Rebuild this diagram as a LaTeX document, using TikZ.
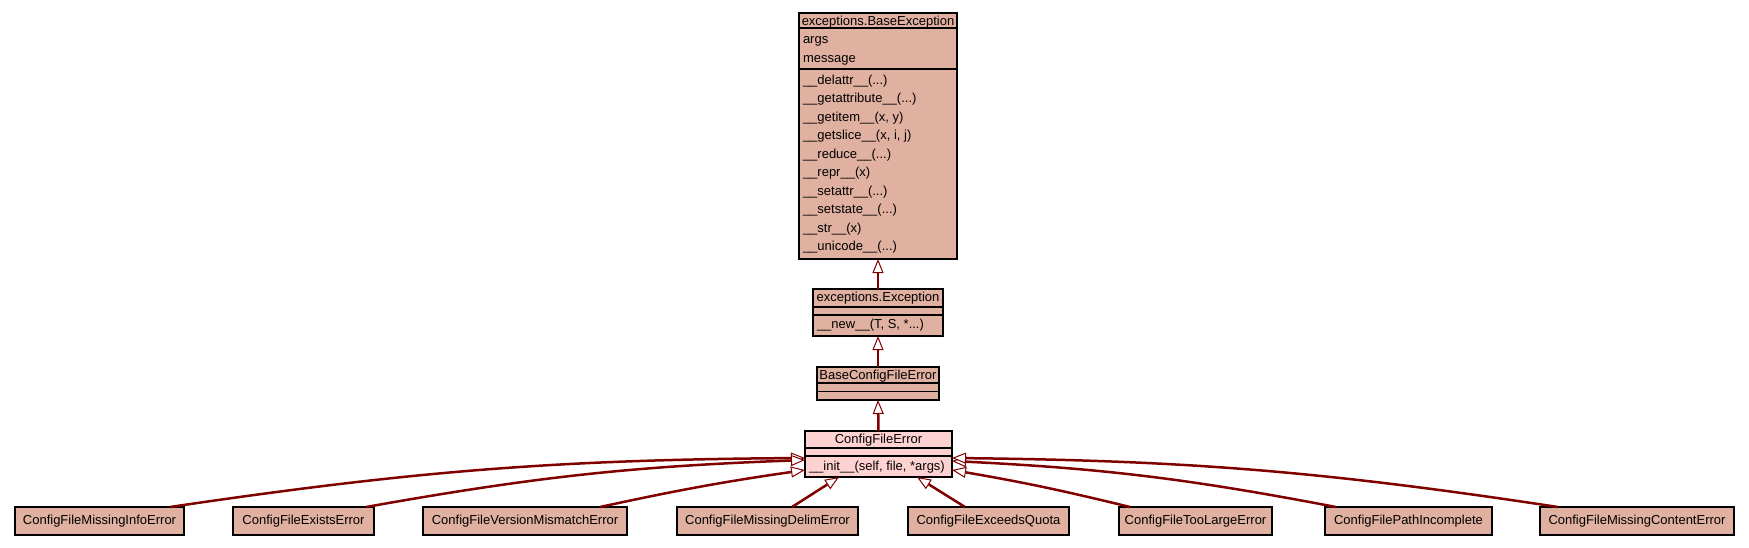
\documentclass[tikz,border=0pt]{standalone}
\usepackage{fontspec}
\setmainfont{Liberation Sans}
\usetikzlibrary{arrows.meta}
\definecolor{clsfill}{RGB}{224,176,160}
\definecolor{curfill}{RGB}{255,210,210}
\definecolor{edgecol}{RGB}{128,0,0}
\begin{document}
\begin{tikzpicture}[x=1pt,y=-1pt,
  cls/.style={draw=black, line width=1.1pt, fill=clsfill, anchor=north, inner sep=0pt, outer sep=0pt},
  leaf/.style={cls, anchor=north west, minimum height=28pt, font=\fontsize{13}{15}\selectfont},
  sep/.style={draw=black, line width=1.1pt},
  txt/.style={inner sep=0pt, outer sep=0pt, font=\fontsize{13}{15}\selectfont, text height=9pt, text depth=2pt},
  ltxt/.style={txt, anchor=west},
  inh/.style={draw=edgecol, line width=2.5pt, -{Triangle[fill=white, line width=1pt, length=14pt, width=11pt]}}
]
\useasboundingbox (0,0) rectangle (1749,547);

% exceptions.BaseException
\node[cls, minimum width=158pt, minimum height=246pt] (be) at (878,13) {};
\draw[sep] ([yshift=-15pt]be.north west) -- ([yshift=-15pt]be.north east);
\draw[sep] ([yshift=-56pt]be.north west) -- ([yshift=-56pt]be.north east);
\node[txt] (beT) at (878,21.5) {exceptions.BaseException};
\node[ltxt] (beA1) at (803,40) {args};
\node[ltxt] (beA2) at (803,59) {message};
\node[ltxt] (beM1) at (803,80.5) {\_\_delattr\_\_(...)};
\node[ltxt] (beM2) at (803,99) {\_\_getattribute\_\_(...)};
\node[ltxt] (beM3) at (803,117.5) {\_\_getitem\_\_(x, y)};
\node[ltxt] (beM4) at (803,136) {\_\_getslice\_\_(x, i, j)};
\node[ltxt] (beM5) at (803,154.5) {\_\_reduce\_\_(...)};
\node[ltxt] (beM6) at (803,173) {\_\_repr\_\_(x)};
\node[ltxt] (beM7) at (803,191.5) {\_\_setattr\_\_(...)};
\node[ltxt] (beM8) at (803,210) {\_\_setstate\_\_(...)};
\node[ltxt] (beM9) at (803,228.5) {\_\_str\_\_(x)};
\node[ltxt] (beM10) at (803,247) {\_\_unicode\_\_(...)};

% exceptions.Exception
\node[cls, minimum width=130pt, minimum height=47pt] (ex) at (878,289) {};
\draw[sep] ([yshift=-18pt]ex.north west) -- ([yshift=-18pt]ex.north east);
\draw[sep] ([yshift=-26pt]ex.north west) -- ([yshift=-26pt]ex.north east);
\node[txt] (exT) at (878,298) {exceptions.Exception};
\node[ltxt] (exM1) at (817,325) {\_\_new\_\_(T, S, *...)};

% BaseConfigFileError
\node[cls, minimum width=122pt, minimum height=33pt] (bc) at (878,367) {};
\draw[sep] ([yshift=-16pt]bc.north west) -- ([yshift=-16pt]bc.north east);
\draw[sep] ([yshift=-24.5pt]bc.north west) -- ([yshift=-24.5pt]bc.north east);
\node[txt] (bcT) at (878,375.5) {BaseConfigFileError};

% ConfigFileError
\node[cls, fill=curfill, minimum width=147pt, minimum height=46pt] (cfe) at (878.5,431) {};
\draw[sep] ([yshift=-17pt]cfe.north west) -- ([yshift=-17pt]cfe.north east);
\draw[sep] ([yshift=-25pt]cfe.north west) -- ([yshift=-25pt]cfe.north east);
\node[txt] (cfeT) at (878.5,440) {ConfigFileError};
\node[ltxt] (cfeM1) at (809,466.5) {\_\_init\_\_(self, file, *args)};

% leaf classes
\node[leaf, minimum width=169pt] (mi) at (15,507) {ConfigFileMissingInfoError};
\node[leaf, minimum width=141pt] (es) at (233,507) {ConfigFileExistsError};
\node[leaf, minimum width=204pt] (vm) at (423,507) {ConfigFileVersionMismatchError};
\node[leaf, minimum width=181pt] (md) at (677,507) {ConfigFileMissingDelimError};
\node[leaf, minimum width=161pt] (eq) at (908,507) {ConfigFileExceedsQuota};
\node[leaf, minimum width=153pt] (tl) at (1119,507) {ConfigFileTooLargeError};
\node[leaf, minimum width=167pt] (pi) at (1325,507) {ConfigFilePathIncomplete};
\node[leaf, minimum width=194pt] (mc) at (1540,507) {ConfigFileMissingContentError};

% inheritance edges
\draw[inh] (ex.north) -- (be.south);
\draw[inh] (bc.north) -- (ex.south);
\draw[inh] (cfe.north) -- (bc.south);

\draw[inh] ([xshift=-14pt]mi.north east) to[bend left=4] ([yshift=-4pt]cfe.west);
\draw[inh] ([xshift=-8pt]es.north east) to[bend left=4] ([yshift=-6pt]cfe.west);
\draw[inh] ([xshift=-27pt]vm.north east) to[bend left=2] ([yshift=-16pt]cfe.west);
\draw[inh] ([xshift=24.5pt]md.north) -- ([xshift=-39.5pt]cfe.south);
\draw[inh] ([xshift=-23.5pt]eq.north) -- ([xshift=38.5pt]cfe.south);
\draw[inh] ([xshift=11pt]tl.north west) to[bend right=2] ([yshift=-16pt]cfe.east);
\draw[inh] ([xshift=11pt]pi.north west) to[bend right=4] ([yshift=-7pt]cfe.east);
\draw[inh] ([xshift=18pt]mc.north west) to[bend right=4] ([yshift=-4pt]cfe.east);
\end{tikzpicture}
\end{document}
